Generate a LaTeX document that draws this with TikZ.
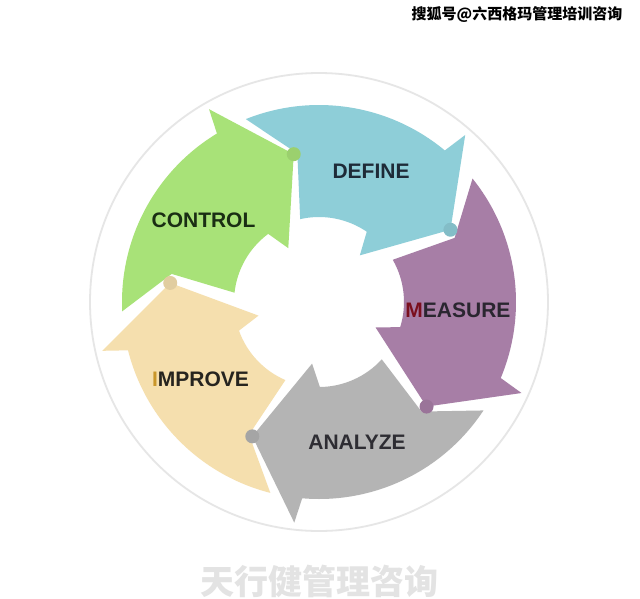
\documentclass[tikz,border=0pt]{standalone}
\usepackage{fontspec}
\setmainfont{Liberation Sans}
\newfontfamily\cjkfont{Noto Sans CJK SC}
\definecolor{cdef}{HTML}{8ECED8}
\definecolor{cmea}{HTML}{A77EA6}
\definecolor{cana}{HTML}{B4B4B4}
\definecolor{cimp}{HTML}{F5DFAE}
\definecolor{ccon}{HTML}{A8E278}
\definecolor{ringcol}{HTML}{E6E6E6}
\definecolor{tdef}{HTML}{1E2B38}
\definecolor{tcon}{HTML}{1A2E14}
\definecolor{tana}{HTML}{2E2D33}
\definecolor{timp}{HTML}{26241F}
\definecolor{tmea}{HTML}{2A2630}
\definecolor{mred}{HTML}{7A0F1E}
\definecolor{igold}{HTML}{C9962A}
\definecolor{wmgray}{HTML}{E3E3E3}
\begin{document}
\begin{tikzpicture}[x=1pt,y=1pt,
  lbl/.style={font=\fontsize{21}{24}\selectfont\bfseries, inner sep=0pt}]
\useasboundingbox[fill=white] (0,0) rectangle (640,-598);
\begin{scope}[shift={(319,-302)}]
  \draw[ringcol, line width=1.8pt] (0,0) circle[radius=229pt];
  \foreach \t/\c in {28.8/cdef, -44.2/cmea, -116.4/cana, -187.3/cimp, -260.3/ccon}{
    \fill[\c] ({\t+83}:197pt) arc[start angle={\t+83}, end angle={\t+21.5}, radius=197pt]
      -- ({\t+20}:222pt) -- (\t:150pt) -- ({\t+20}:62pt) -- ({\t+27}:85pt)
      arc[start angle={\t+27}, end angle={\t+74}, radius=85pt]
      -- ({\t+69.5}:150pt) -- cycle;
  }
  \foreach \t/\c in {28.8/cdef, -44.2/cmea, -116.4/cana, -187.3/cimp, -260.3/ccon}{
    \fill[\c!92!black] (\t:150pt) circle[radius=7pt];
  }
\end{scope}
\node[lbl, text=tdef] (define) at (371,-171.5) {DEFINE};
\node[lbl, text=tmea] (measure) at (458,-310) {\textcolor{mred}{M}EASURE};
\node[lbl, text=tana] (analyze) at (357,-442.5) {ANALYZE};
\node[lbl, text=timp] (improve) at (200.5,-379) {\textcolor{igold}{I}MPROVE};
\node[lbl, text=tcon] (control) at (203.5,-220.5) {CONTROL};
\node[font={\cjkfont\bfseries\fontsize{15}{18}\selectfont}, text=black, inner sep=0pt] (wm) at (517,-15) {搜狐号@六西格玛管理培训咨询};
\node[font={\cjkfont\bfseries\fontsize{34}{40}\selectfont}, text=wmgray, inner sep=0pt] (brand) at (319.5,-581) {天行健管理咨询};
\end{tikzpicture}
\end{document}
